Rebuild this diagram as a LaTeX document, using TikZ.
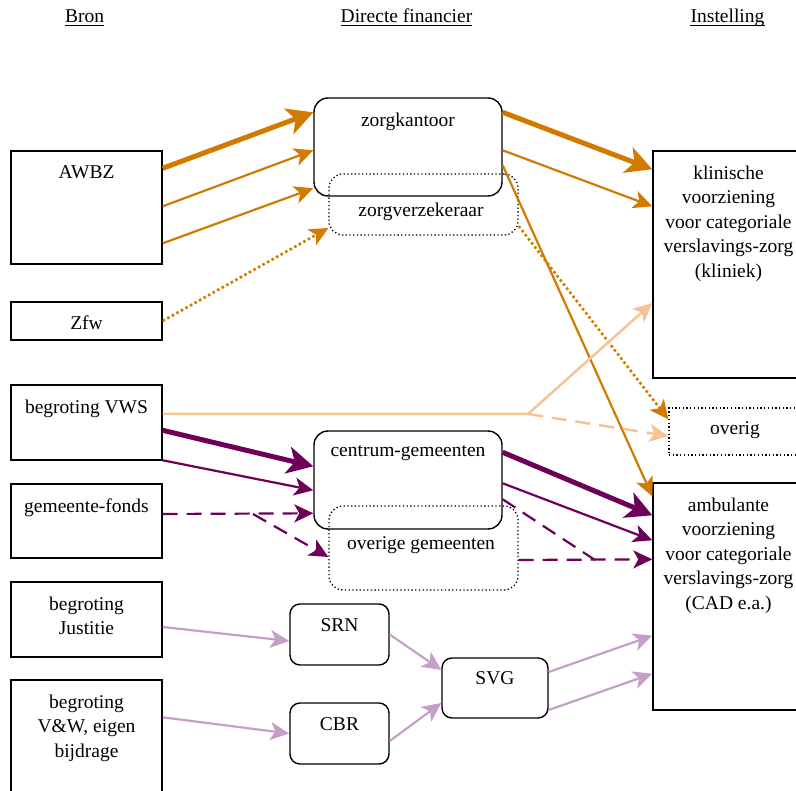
\documentclass[tikz,border=0pt]{standalone}
\usepackage{fontspec}
\setmainfont{Liberation Serif}
\usetikzlibrary{arrows.meta}
\definecolor{awbzoranje}{RGB}{212,121,0}
\definecolor{vwslicht}{RGB}{245,196,150}
\definecolor{gempaars}{RGB}{110,0,90}
\definecolor{svglila}{RGB}{196,160,200}
\tikzset{
	bron/.style={draw, line width=1.4pt, minimum width=151pt, inner sep=0pt},
	financier/.style={draw, line width=1.4pt, rounded corners=14pt, inner sep=0pt},
	bijfinancier/.style={draw, line width=1.3pt, dash pattern=on 1.3pt off 2.4pt, rounded corners=14pt, inner sep=0pt},
	instelling/.style={draw, line width=1.4pt, minimum width=151pt, inner sep=0pt},
	tekst/.style={inner sep=0pt, align=center, font=\fontsize{19.5}{24.5}\selectfont},
	geld/.style={line width=2.2pt, -{Stealth[length=19pt, width=18pt, inset=5pt]}},
	veelgeld/.style={line width=5pt, -{Stealth[length=26pt, width=27pt, inset=7pt]}},
	stippel/.style={line width=2.6pt, dash pattern=on 2.6pt off 2.6pt},
	streep/.style={dash pattern=on 15pt off 9pt},
}

\begin{document}
\begin{tikzpicture}[x=1pt, y=-1pt]
		\useasboundingbox (0,0) rectangle (796,791);
		\clip (0,0) rectangle (796,791);
		\node [tekst, anchor=base] (hbron) at (84.5,22.7) {Bron};
		\node [tekst, anchor=base] (hfin) at (406.5,22.7) {Directe financier};
		\node [tekst, anchor=base] (hinst) at (727.5,22.7) {Instelling};
		\draw [line width=1.2pt] ([yshift=-2.6pt]hbron.base west) -- ([yshift=-2.6pt]hbron.base east);
		\draw [line width=1.2pt] ([yshift=-2.6pt]hfin.base west) -- ([yshift=-2.6pt]hfin.base east);
		\draw [line width=1.2pt] ([yshift=-2.6pt]hinst.base west) -- ([yshift=-2.6pt]hinst.base east);

		\node [bron, minimum height=113pt] (awbz) at (86.5,207.5) {};
		\node [bron, minimum height=38pt] (zfw) at (86.5,321) {};
		\node [bron, minimum height=75pt] (vws) at (86.5,422.5) {};
		\node [bron, minimum height=74pt] (gfonds) at (86.5,521) {};
		\node [bron, minimum height=75pt] (justitie) at (86.5,619.5) {};
		\node [bron, minimum height=120pt] (venw) at (86.5,740) {};
		\node [tekst, anchor=north] (awbz-t) at ([yshift=-15pt]awbz.north) {AWBZ};
		\node [tekst, anchor=base] (zfw-t) at (86.5,330) {Zfw};
		\node [tekst, anchor=north] (vws-t) at ([yshift=-15pt]vws.north) {begroting VWS};
		\node [tekst, anchor=north] (gfonds-t) at ([yshift=-15pt]gfonds.north) {gemeente-fonds};
		\node [tekst, anchor=north] (justitie-t) at ([yshift=-15pt]justitie.north) {begroting\\Justitie};
		\node [tekst, anchor=north] (venw-t) at ([yshift=-15pt]venw.north) {begroting\\V\&W, eigen\\bijdrage};

		\node [financier, minimum width=188pt, minimum height=98pt] (zkantoor) at (408,147) {};
		\node [bijfinancier, minimum width=189pt, minimum height=61pt] (zverz) at (423.5,204.5) {};
		\node [financier, minimum width=188pt, minimum height=98pt] (cgem) at (408,480) {};
		\node [bijfinancier, minimum width=189pt, minimum height=84pt] (ogem) at (423.5,548) {};
		\node [financier, minimum width=99pt, minimum height=61pt, rounded corners=10pt] (srn) at (339.5,634.5) {};
		\node [financier, minimum width=99pt, minimum height=61pt, rounded corners=10pt] (cbr) at (339.5,733.5) {};
		\node [financier, minimum width=106pt, minimum height=60pt, rounded corners=10pt] (svg) at (495,688) {};
		\node [tekst, anchor=north] (zkantoor-t) at ([yshift=-15pt]zkantoor.north) {zorgkantoor};
		\node [tekst, anchor=base] (zverz-t) at (421,217) {zorgverzekeraar};
		\node [tekst, anchor=north] (cgem-t) at ([yshift=-15pt]cgem.north) {centrum-gemeenten};
		\node [tekst, anchor=base] (ogem-t) at (421,550) {overige gemeenten};
		\node [tekst, anchor=north] (srn-t) at ([yshift=-15pt]srn.north) {SRN};
		\node [tekst, anchor=north] (cbr-t) at ([yshift=-15pt]cbr.north) {CBR};
		\node [tekst, anchor=north] (svg-t) at ([yshift=-14pt]svg.north) {SVG};

		\node [instelling, minimum height=227pt] (kliniek) at (728.5,264.5) {};
		\node [bijfinancier, rounded corners=0pt, minimum width=132pt, minimum height=47pt] (overig) at (735,431.5) {};
		\node [instelling, minimum height=227pt] (ambulant) at (728.5,596.5) {};
		\node [tekst, anchor=north] (kliniek-t) at ([yshift=-15pt]kliniek.north) {klinische\\voorziening\\voor categoriale\\verslavings-zorg\\(kliniek)};
		\node [tekst, anchor=base] (overig-t) at (735,435) {overig};
		\node [tekst, anchor=north] (ambulant-t) at ([yshift=-15pt]ambulant.north) {ambulante\\voorziening\\voor categoriale\\verslavings-zorg\\(CAD e.a.)};

		\draw [veelgeld, awbzoranje] ([yshift=-18pt]awbz.north east) -- ([yshift=-15pt]zkantoor.north west);
		\draw [geld, awbzoranje] ([yshift=-56pt]awbz.north east) -- ([yshift=-53pt]zkantoor.north west);
		\draw [geld, awbzoranje] ([yshift=-93pt]awbz.north east) -- ([yshift=-91pt]zkantoor.north west);
		\draw [geld, stippel, awbzoranje] (zfw.east) -- ([yshift=-23.5pt]zverz.west);
		\draw [veelgeld, awbzoranje] ([yshift=-15pt]zkantoor.north east) -- ([yshift=-19pt]kliniek.north west);
		\draw [geld, awbzoranje] ([yshift=-53pt]zkantoor.north east) -- ([yshift=-56pt]kliniek.north west);
		\draw [geld, awbzoranje] ([yshift=-68pt]zkantoor.north east) -- ([yshift=-14pt]ambulant.north west);
		\draw [geld, stippel, awbzoranje] ([yshift=-21.5pt]zverz.east) -- ([yshift=-12pt]overig.north west);

		\coordinate (vwssplit) at (528,414);
		\draw [geld, line width=2.5pt, vwslicht] ([yshift=8.5pt]vws.east) -- (vwssplit) -- ([yshift=-38.5pt]kliniek.west);
		\draw [geld, line width=2.5pt, streep, vwslicht] (vwssplit) -- ([yshift=-4.5pt]overig.west);

		\draw [veelgeld, gempaars] ([yshift=-46pt]vws.north east) -- ([yshift=-36pt]cgem.north west);
		\draw [geld, gempaars] ([yshift=-76pt]vws.north east) -- ([yshift=-60pt]cgem.north west);
		\coordinate (gfsplit) at (253,514);
		\draw [geld, streep, gempaars] ([yshift=7pt]gfonds.east) -- ([yshift=-83pt]cgem.north west);
		\draw [geld, streep, gempaars] (gfsplit) -- ([yshift=-9pt]ogem.west);
		\draw [veelgeld, gempaars] ([yshift=-22pt]cgem.north east) -- ([yshift=-33pt]ambulant.north west);
		\draw [geld, gempaars] ([yshift=-53pt]cgem.north east) -- ([yshift=-58pt]ambulant.north west);
		\coordinate (gemmerge) at (595,560);
		\draw [line width=2.2pt, streep, gempaars] ([yshift=-69pt]cgem.north east) -- (gemmerge);
		\draw [geld, streep, gempaars] ([yshift=-12pt]ogem.east) -- ([yshift=-77pt]ambulant.north west);

		\draw [geld, svglila] ([yshift=-7.5pt]justitie.east) -- ([yshift=-6.5pt]srn.west);
		\draw [geld, svglila] ([yshift=-38pt]venw.north east) -- (cbr.west);
		\draw [geld, svglila] (srn.east) -- ([yshift=18pt]svg.west);
		\draw [geld, svglila] ([yshift=-7.5pt]cbr.east) -- ([yshift=-15pt]svg.west);
		\draw [geld, svglila] ([yshift=16pt]svg.east) -- ([yshift=75pt]ambulant.south west);
		\draw [geld, svglila] ([yshift=-22pt]svg.east) -- ([yshift=37pt]ambulant.south west);
	\end{tikzpicture}
\end{document}
